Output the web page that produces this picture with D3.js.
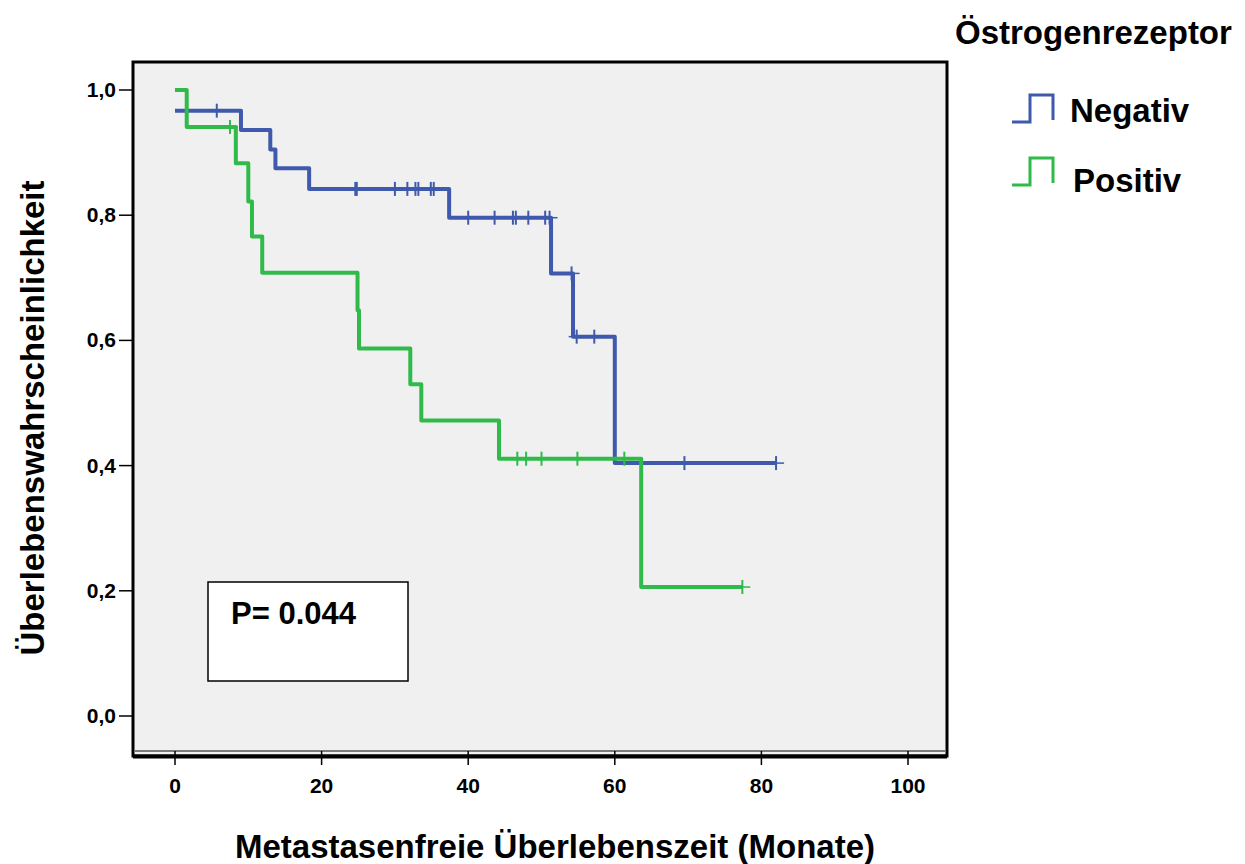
<!DOCTYPE html>
<html>
<head>
<meta charset="utf-8">
<script src="https://cdn.jsdelivr.net/npm/d3@7"></script>
<style>
  body { margin: 0; background: #fff; }
  svg text { font-family: "Liberation Sans", Arial, sans-serif; font-weight: bold; fill: #000; }
</style>
</head>
<body>
<div id="chart"></div>
<script>
// Kaplan-Meier step data
const negTimes = [0, 9.0, 13.0, 13.7, 18.3, 37.4, 51.3, 54.3, 60.0];
const negSurv = [0.967, 0.936, 0.905, 0.875, 0.842, 0.796, 0.707, 0.606, 0.404];
const negCensor = [5.7, 24.6, 24.8, 30.0, 31.7, 32.8, 33.2, 34.9, 35.3, 40.0, 43.6, 46.1, 46.5, 48.2, 50.5, 51.1, 54.1, 54.8, 57.2, 69.5, 82.0];
const negEnd = 82.0;

const posTimes = [0, 1.6, 8.3, 10.0, 10.5, 11.9, 24.9, 25.1, 32.1, 33.6, 44.2, 63.6];
const posSurv = [1.0, 0.941, 0.883, 0.822, 0.766, 0.708, 0.648, 0.587, 0.530, 0.472, 0.411, 0.206];
const posCensor = [7.5, 46.7, 47.9, 50.0, 54.9, 61.3, 77.4];
const posEnd = 77.4;

const xTicks = [0, 20, 40, 60, 80, 100];
const yTicks = [0, 0.2, 0.4, 0.6, 0.8, 1.0];
const groupNames = ["Negativ", "Positiv"];
const colors = ["#3f5aac", "#2fba4a"];

const W = 1245, H = 864;
const frame = { left: 133, top: 62, right: 947, bottom: 756 };

const svg = d3.select("#chart").append("svg")
	.attr("width", W)
	.attr("height", H);

const x = d3.scaleLinear().domain([0, 100]).range([175, 908]);
const y = d3.scaleLinear().domain([0, 1]).range([716, 90]);

// plot background + frame
svg.append("rect")
	.attr("x", frame.left)
	.attr("y", frame.top)
	.attr("width", frame.right - frame.left)
	.attr("height", frame.bottom - frame.top)
	.style("fill", "#f0f0f0")
	.style("stroke", "#000")
	.style("stroke-width", 3);

svg.append("line")
	.attr("x1", frame.left + 2).attr("x2", frame.right - 2)
	.attr("y1", 751).attr("y2", 751)
	.style("stroke", "#555")
	.style("stroke-width", 1.5);

svg.append("line")
	.attr("x1", frame.left).attr("x2", frame.right)
	.attr("y1", 756.5).attr("y2", 756.5)
	.style("stroke", "#000")
	.style("stroke-width", 4);

// y axis ticks
svg.selectAll(".ytick").data(yTicks).enter().append("line")
	.attr("x1", 119).attr("x2", frame.left)
	.attr("y1", d => y(d)).attr("y2", d => y(d))
	.style("stroke", "#000").style("stroke-width", 1.5);

svg.selectAll(".ylab").data(yTicks).enter().append("text")
	.attr("x", 116)
	.attr("y", d => y(d) + 7)
	.attr("text-anchor", "end")
	.style("font-size", "21px")
	.text(d => d3.format(".1f")(d).replace(".", ","));

// x axis ticks
svg.selectAll(".xtick").data(xTicks).enter().append("line")
	.attr("x1", d => x(d)).attr("x2", d => x(d))
	.attr("y1", 751).attr("y2", 765)
	.style("stroke", "#000").style("stroke-width", 1.5);

svg.selectAll(".xlab").data(xTicks).enter().append("text")
	.attr("x", d => x(d))
	.attr("y", 793)
	.attr("text-anchor", "middle")
	.style("font-size", "21px")
	.text(d => d);

// p-value box
svg.append("rect")
	.attr("x", 208).attr("y", 582)
	.attr("width", 200).attr("height", 99)
	.style("fill", "#fff")
	.style("stroke", "#000")
	.style("stroke-width", 1.5);

svg.append("text")
	.attr("x", 231).attr("y", 624)
	.style("font-size", "31px")
	.text("P= 0.044");

// survival curves
const line = d3.line()
	.x(d => x(d[0]))
	.y(d => y(d[1]))
	.curve(d3.curveStepAfter);

const groups = [
	{ times: negTimes, surv: negSurv, censor: negCensor, end: negEnd },
	{ times: posTimes, surv: posSurv, censor: posCensor, end: posEnd }
];

const survAt = (g, t) => {
	let s = g.surv[0];
	g.times.forEach((ti, i) => { if (ti <= t) s = g.surv[i]; });
	return s;
};

groups.forEach((g, i) => {
	const pts = g.times.map((t, j) => [t, g.surv[j]]);
	pts.push([g.end, g.surv[g.surv.length - 1]]);

	svg.append("path")
		.datum(pts)
		.attr("d", line)
		.style("fill", "none")
		.style("stroke", colors[i])
		.style("stroke-width", 4)
		.style("stroke-linejoin", "round");

	const marks = svg.append("g");
	marks.selectAll("line.v").data(g.censor).enter().append("line")
		.attr("x1", d => x(d)).attr("x2", d => x(d))
		.attr("y1", d => y(survAt(g, d)) - 7)
		.attr("y2", d => y(survAt(g, d)) + 7)
		.style("stroke", colors[i]).style("stroke-width", 2);
	marks.selectAll("line.h").data(g.censor).enter().append("line")
		.attr("x1", d => x(d) - 8).attr("x2", d => x(d) + 8)
		.attr("y1", d => y(survAt(g, d)))
		.attr("y2", d => y(survAt(g, d)))
		.style("stroke", colors[i]).style("stroke-width", 1.5);
});

// axis titles
svg.append("text")
	.attr("x", 555).attr("y", 858)
	.attr("text-anchor", "middle")
	.style("font-size", "33px")
	.text("Metastasenfreie Überlebenszeit (Monate)");

svg.append("text")
	.attr("transform", "translate(44, 418) rotate(-90)")
	.attr("text-anchor", "middle")
	.style("font-size", "33px")
	.text("Überlebenswahrscheinlichkeit");

// legend
svg.append("text")
	.attr("x", 955).attr("y", 44)
	.style("font-size", "33px")
	.text("Östrogenrezeptor");

const legendY = [122, 185];
const legendTextX = [1070, 1073];
const legendTextY = [122, 192];
groupNames.forEach((name, i) => {
	const by = legendY[i];
	svg.append("path")
		.attr("d", `M1012,${by} H1030 V${by - 27} H1053 V${by - 2}`)
		.style("fill", "none")
		.style("stroke", colors[i])
		.style("stroke-width", 3);
	svg.append("text")
		.attr("x", legendTextX[i]).attr("y", legendTextY[i])
		.style("font-size", "33px")
		.text(name);
});
</script>
</body>
</html>
